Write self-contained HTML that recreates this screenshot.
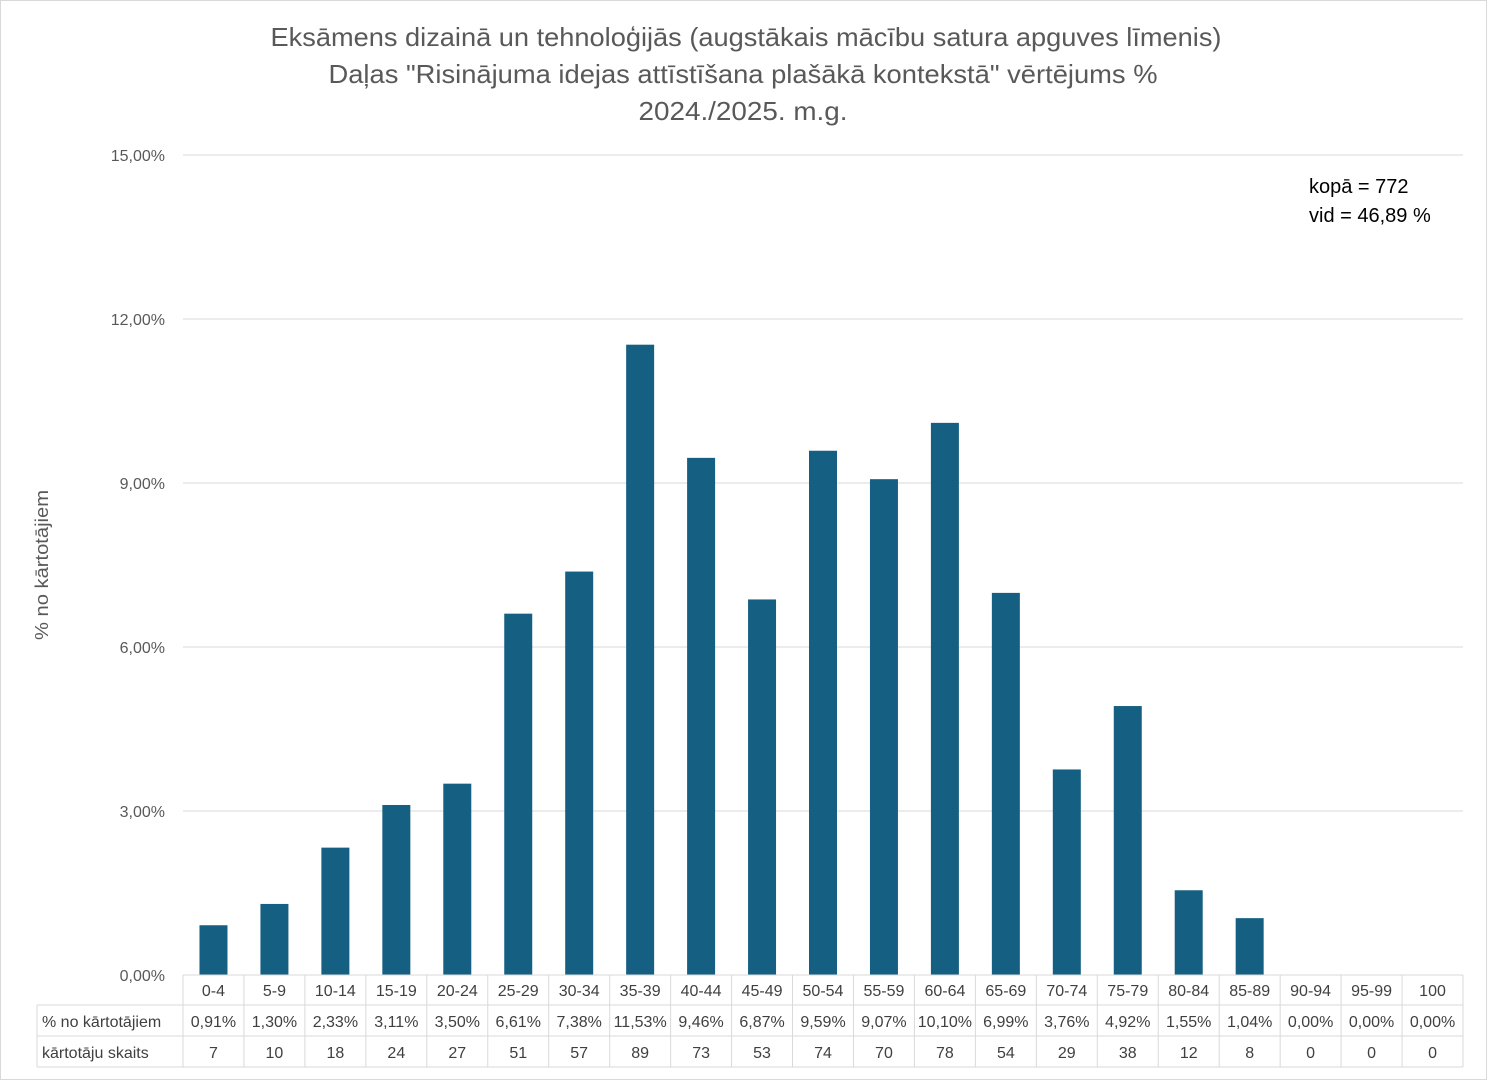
<!DOCTYPE html>
<html><head><meta charset="utf-8">
<style>
html,body{margin:0;padding:0;background:#fff;}
svg{display:block;font-family:"Liberation Sans","DejaVu Sans",sans-serif;}
</style></head>
<body>
<svg id="chart" width="1487" height="1080" xmlns="http://www.w3.org/2000/svg">
<rect x="0.5" y="0.5" width="1486" height="1079" fill="#fff" stroke="#d9d9d9"/>
<g fill="#595959" font-size="26" text-anchor="middle">
<text x="746" y="46" textLength="951" lengthAdjust="spacingAndGlyphs">Eksāmens dizainā un tehnoloģijās (augstākais mācību satura apguves līmenis)</text>
<text x="743" y="83" textLength="829" lengthAdjust="spacingAndGlyphs">Daļas "Risinājuma idejas attīstīšana plašākā kontekstā" vērtējums %</text>
<text x="743" y="120" textLength="209" lengthAdjust="spacingAndGlyphs">2024./2025. m.g.</text>
</g>
<text transform="translate(48,565) rotate(-90)" text-anchor="middle" font-size="18" fill="#595959" textLength="150" lengthAdjust="spacingAndGlyphs">% no kārtotājiem</text>
<g font-size="20" fill="#000">
<text x="1309" y="193">kopā = 772</text>
<text x="1309" y="222">vid = 46,89 %</text>
</g>
<g id="grid"></g><g id="bars"></g><g id="table"></g>
</svg>
<script>
const categories=["0-4","5-9","10-14","15-19","20-24","25-29","30-34","35-39","40-44","45-49","50-54","55-59","60-64","65-69","70-74","75-79","80-84","85-89","90-94","95-99","100"];
const percents=[0.91,1.30,2.33,3.11,3.50,6.61,7.38,11.53,9.46,6.87,9.59,9.07,10.10,6.99,3.76,4.92,1.55,1.04,0,0,0];
const counts=[7,10,18,24,27,51,57,89,73,53,74,70,78,54,29,38,12,8,0,0,0];
const yTicks=[0,3,6,9,12,15];
const NS="http://www.w3.org/2000/svg";
const X0=183,X1=1463,Y0=975,Y1=155,YMAX=15;
const colW=(X1-X0)/categories.length;
const y=v=>Y0-(v/YMAX)*(Y0-Y1);
const xc=i=>X0+colW*(i+0.5);
function mk(tag,attrs,parent,text){const e=document.createElementNS(NS,tag);for(const k in attrs)e.setAttribute(k,attrs[k]);if(text!==undefined)e.textContent=text;parent.appendChild(e);return e;}
const fmt=v=>v.toFixed(2).replace('.',',')+'%';
const grid=document.getElementById('grid');
yTicks.forEach(t=>{
  const l=mk('line',{x1:X0,x2:X1,y1:y(t),y2:y(t),stroke:'#d9d9d9','stroke-width':1},grid);
  
  
  const tx=mk('text',{x:165,y:y(t)+6,'text-anchor':'end','font-size':16,fill:'#595959'},grid,fmt(t));
  
  
});
const bars=document.getElementById('bars');
const bw=28;
percents.forEach((v,i)=>{
  if(v<=0)return;
  const r=mk('rect',{x:xc(i)-bw/2,y:y(v),width:bw,height:Y0-y(v),fill:'#156082'},bars);
  
  
});
const tb=document.getElementById('table');
const rows=[975,1005,1036,1067];
const st={stroke:'#d9d9d9','stroke-width':1};
mk('line',Object.assign({x1:X0,x2:X1,y1:rows[0],y2:rows[0]},st),tb);
for(let r=1;r<4;r++)mk('line',Object.assign({x1:37,x2:X1,y1:rows[r],y2:rows[r]},st),tb);
for(let i=0;i<=categories.length;i++)mk('line',Object.assign({x1:X0+colW*i,x2:X0+colW*i,y1:rows[0],y2:rows[3]},st),tb);
mk('line',Object.assign({x1:37,x2:37,y1:rows[1],y2:rows[3]},st),tb);
const fs=16,col='#404040';
const l1=mk('text',{x:42,y:1027,'font-size':fs,fill:col},tb,'% no kārtotājiem');


const l2=mk('text',{x:42,y:1058,'font-size':fs,fill:col},tb,'kārtotāju skaits');


categories.forEach((c,i)=>{
  const a=mk('text',{x:xc(i),y:996,'text-anchor':'middle','font-size':fs,fill:col},tb,c);
  
  
  const b=mk('text',{x:xc(i),y:1027,'text-anchor':'middle','font-size':fs,fill:col},tb,fmt(percents[i]));
  
  
  const d=mk('text',{x:xc(i),y:1058,'text-anchor':'middle','font-size':fs,fill:col},tb,String(counts[i]));
  
  
});
</script>
</body></html>
